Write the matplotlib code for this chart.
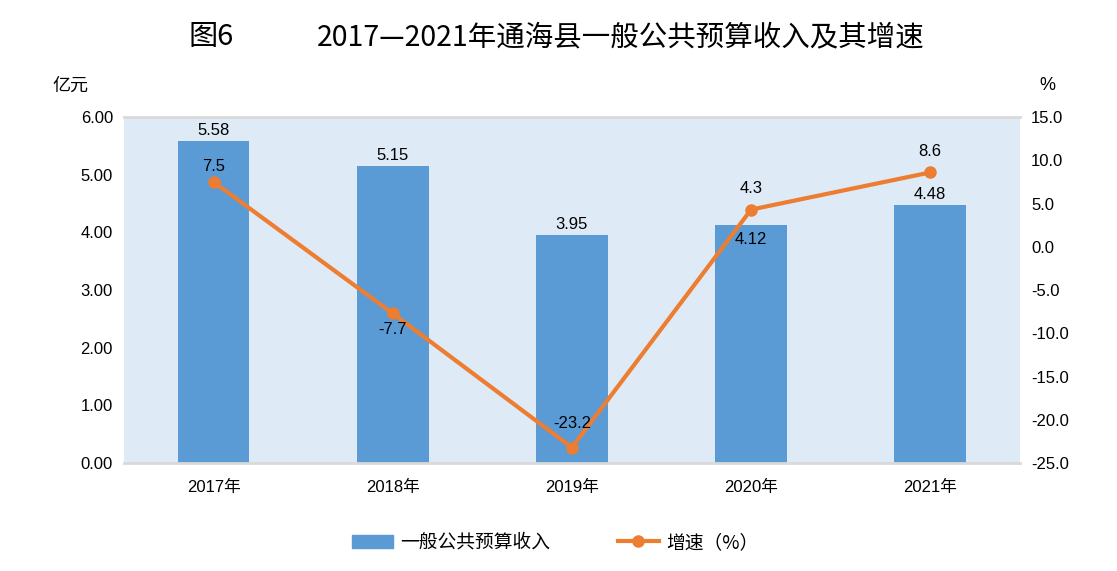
import matplotlib
matplotlib.use("Agg")
import matplotlib.pyplot as plt
from matplotlib.patches import Patch
from matplotlib.lines import Line2D

plt.rcParams['font.family'] = ['Liberation Sans', 'Noto Sans CJK SC', 'DejaVu Sans']

years = ['2017年', '2018年', '2019年', '2020年', '2021年']
revenue = [5.58, 5.15, 3.95, 4.12, 4.48]
growth = [7.5, -7.7, -23.2, 4.3, 8.6]
left_ticks = [0, 1, 2, 3, 4, 5, 6]
right_ticks = [-25, -20, -15, -10, -5, 0, 5, 10, 15]

bar_color = '#5B9BD5'
line_color = '#ED7D31'
bg = '#DEEAF6'

fig = plt.figure(figsize=(11.17, 5.71), dpi=100)
ax = fig.add_axes([0.111, 0.189, 0.802, 0.606])
ax.set_facecolor(bg)
x = list(range(len(years)))
ax.bar(x, revenue, width=0.40, color=bar_color, zorder=2)
ax.set_xlim(-0.5, 4.5)
ax.set_ylim(0, 6)
ax.set_yticks(left_ticks)
ax.set_yticklabels([f'{v:.2f}' for v in left_ticks])
ax.set_xticks(x)
ax.set_xticklabels(years)
for s in ['left', 'right']:
    ax.spines[s].set_visible(False)
ax.spines['bottom'].set_color('#D9D9D9')
ax.spines['bottom'].set_linewidth(2)
ax.spines['top'].set_color('#D9D9D9')
ax.spines['top'].set_linewidth(2)
ax.tick_params(axis='both', length=0, labelsize=12, colors='black')
ax.tick_params(axis='x', pad=12)
ax.tick_params(axis='y', pad=8)

for i, v in enumerate(revenue):
    if i == 3:
        ax.text(i, v - 0.12, f'{v:.2f}', ha='center', va='top', fontsize=12, zorder=5)
    else:
        ax.text(i, v + 0.05, f'{v:.2f}', ha='center', va='bottom', fontsize=12, zorder=5)

ax2 = ax.twinx()
ax2.set_ylim(-25, 15)
ax2.set_yticks(right_ticks)
ax2.set_yticklabels([f'{v:.1f}' for v in right_ticks])
for s in ['left', 'right', 'top', 'bottom']:
    ax2.spines[s].set_visible(False)
ax2.tick_params(axis='y', length=0, labelsize=12, pad=8)
ax2.plot(x, growth, color=line_color, linewidth=3, marker='o', markersize=8, zorder=3)
offsets = [6, -6, 12, 10, 10]
for i, v in enumerate(growth):
    dy = offsets[i]
    ax2.annotate(f'{v}', (i, v), xytext=(0, dy), textcoords='offset points',
                 ha='center', va='bottom' if dy > 0 else 'top', fontsize=12)

fig.text(0.063, 0.85, '亿元', fontsize=13, ha='center', va='center', family=['Noto Sans CJK SC'])
fig.text(0.938, 0.85, '%', fontsize=13, ha='center', va='center')

fig.text(0.169, 0.935, '图6', fontsize=21, ha='left', va='center', family=['Noto Sans CJK SC', 'DejaVu Sans'])
fig.text(0.284, 0.935, '2017—2021年通海县一般公共预算收入及其增速', fontsize=20.5, ha='left', va='center',
         family=['Noto Sans CJK SC', 'DejaVu Sans'])

handles = [Patch(color=bar_color), Line2D([0], [0], color=line_color, lw=3, marker='o', markersize=8)]
fig.legend(handles, ['一般公共预算收入', '增速（%）'], loc='center', bbox_to_anchor=(0.497, 0.05),
           ncol=2, frameon=False, handlelength=2.2, handletextpad=0.4, columnspacing=3.6,
           prop={'family': ['Noto Sans CJK SC', 'DejaVu Sans'], 'size': 13.5})

fig.savefig('out.png', dpi=100)
